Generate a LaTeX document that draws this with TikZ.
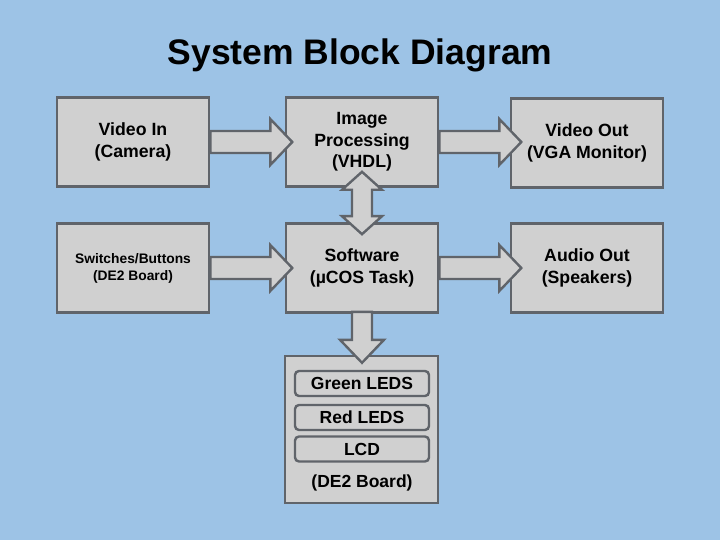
\documentclass[tikz,border=0pt]{standalone}
\usepackage{fontspec}
\setmainfont{Liberation Sans}
\usetikzlibrary{calc}

\definecolor{bgblue}{RGB}{157,195,230}
\definecolor{boxgray}{RGB}{208,208,208}
\definecolor{edgegray}{RGB}{96,100,106}

\tikzset{
  block/.style={draw=edgegray,fill=boxgray,line width=2.6pt,minimum width=152pt,minimum height=89pt,align=center,font=\bfseries\fontsize{17.7}{21.5}\selectfont},
  smallblock/.style={block,font=\bfseries\fontsize{13.8}{17}\selectfont},
  part/.style={draw=edgegray,fill=boxgray,line width=2.4pt,rounded corners=4pt,minimum width=134pt,minimum height=25pt,inner sep=0pt,font=\bfseries\fontsize{17.5}{20}\selectfont},
  blockarrow/.style={draw=edgegray,fill=boxgray,line width=2.4pt,line join=miter}
}

\newcommand{\blockright}[1]{%
  \draw[blockarrow] ($(#1.east)+(0,-11)$) -- ++(60,0) -- ++(0,-12) -- ++(22,23) -- ++(-22,23) -- ++(0,-12) -- ($(#1.east)+(0,11)$) -- cycle;}

\begin{document}
\begin{tikzpicture}[x=1pt,y=-1pt]
            \fill[bgblue] (0,0) rectangle (720,540);
            \node[anchor=base,font=\bfseries\fontsize{35.5}{40}\selectfont] (title) at (360,65) {System Block Diagram};

            \node[block] (vin) at (133,142) {Video In\\(Camera)};
            \node[block] (img) at (362,142) {Image\\Processing\\(VHDL)};
            \node[block] (vout) at (587,143) {Video Out\\(VGA Monitor)};
            \node[smallblock] (sw) at (133,268) {Switches/Buttons\\(DE2 Board)};
            \node[block] (soft) at (362,268) {Software\\(µCOS Task)};
            \node[block] (aout) at (587,268) {Audio Out\\(Speakers)};

            \node[block,minimum width=153pt,minimum height=147pt] (de2) at (361.5,429.5) {};
            \node[part] (green) at (362,383.5) {Green LEDS};
            \node[part] (red) at (362,417.5) {Red LEDS};
            \node[part] (lcd) at (362,449) {LCD};
            \node[font=\bfseries\fontsize{17.5}{20}\selectfont] (board) at (362,483) {(DE2 Board)};

            \blockright{vin}
            \blockright{img}
            \blockright{sw}
            \blockright{soft}

            \draw[blockarrow] ($(img.south)+(0,-16)$) -- ++(20,18) -- ++(-10,0) -- ($(soft.north)+(10,-6)$) -- ++(10,0) -- ($(soft.north)+(0,12)$) -- ++(-20,-18) -- ++(10,0) -- ($(img.south)+(-10,2)$) -- ++(-10,0) -- cycle;
            \draw[blockarrow] ($(soft.south)+(-10,-2)$) -- ++(20,0) -- ++(0,28) -- ++(12,0) -- ++(-22,23) -- ++(-22,-23) -- ++(12,0) -- cycle;
        \end{tikzpicture}
\end{document}
